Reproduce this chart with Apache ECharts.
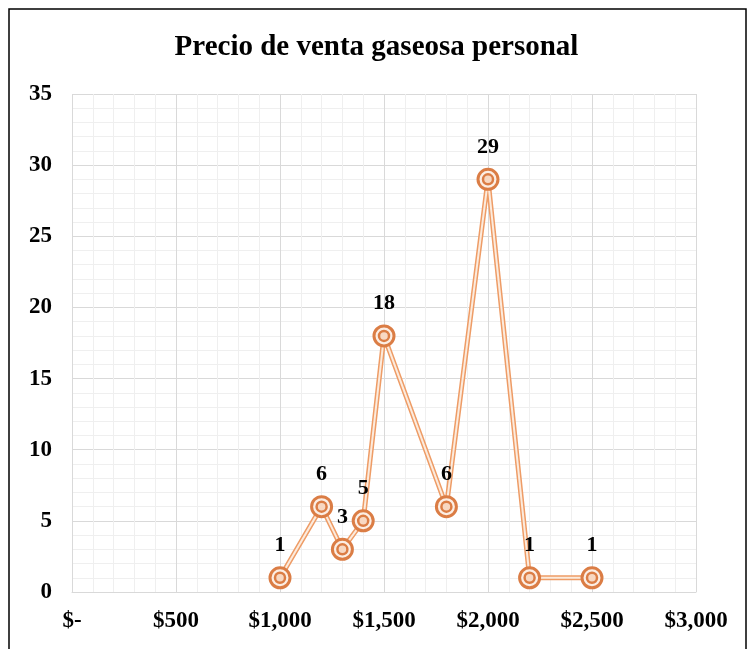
<!DOCTYPE html>
<html><head><meta charset="utf-8">
<script src="https://cdn.jsdelivr.net/npm/echarts@6/dist/echarts.min.js"></script>
<style>html,body{margin:0;padding:0;background:#fff}#c{width:753px;height:649px}</style>
</head><body><div id="c"></div>
<script>
const title = 'Precio de venta gaseosa personal';
const prices = [1000, 1200, 1300, 1400, 1500, 1800, 2000, 2200, 2500];
const counts = [1, 6, 3, 5, 18, 6, 29, 1, 1];
const xTicks = [0, 500, 1000, 1500, 2000, 2500, 3000];
const yTicks = [0, 5, 10, 15, 20, 25, 30, 35];

const pts = prices.map((p, i) => [p, counts[i]]);
const font = '"Liberation Serif", "Times New Roman", serif';
function fmtMoney(v) {
  if (v === 0) return '$-';
  return '$' + v.toLocaleString('en-US');
}
const chart = echarts.init(document.getElementById('c'), null, {renderer: 'canvas'});
chart.setOption({
  animation: false,
  backgroundColor: '#fff',
  title: {text: title, left: 'center', top: 28,
    textStyle: {fontFamily: font, fontWeight: 'bold', fontSize: 29, color: '#000'}},
  graphic: [{type: 'rect', shape: {x: 9, y: 9, width: 737, height: 660},
    style: {fill: 'none', stroke: '#000', lineWidth: 1.5}, silent: true}],
  grid: {left: 72, right: 57, top: 94, bottom: 57},
  xAxis: {type: 'value', min: xTicks[0], max: xTicks[xTicks.length - 1], interval: 500,
    axisLine: {show: true, lineStyle: {color: '#D9D9D9', width: 1}},
    axisTick: {show: false},
    axisLabel: {formatter: fmtMoney, fontFamily: font, fontWeight: 'bold', fontSize: 23, color: '#000', margin: 18},
    splitLine: {show: true, lineStyle: {color: '#D9D9D9', width: 1}},
    minorTick: {show: false, splitNumber: 5},
    minorSplitLine: {show: true, lineStyle: {color: '#EFEFEF', width: 1}}},
  yAxis: {type: 'value', min: yTicks[0], max: yTicks[yTicks.length - 1], interval: 5,
    axisLine: {show: false}, axisTick: {show: false},
    axisLabel: {fontFamily: font, fontWeight: 'bold', fontSize: 23, color: '#000', margin: 20},
    splitLine: {show: true, lineStyle: {color: '#D9D9D9', width: 1}},
    minorTick: {show: false, splitNumber: 5},
    minorSplitLine: {show: true, lineStyle: {color: '#EFEFEF', width: 1}}},
  series: [
    {type: 'line', data: pts, symbol: 'none', z: 2,
      lineStyle: {color: '#EE9C66', width: 5}},
    {type: 'line', data: pts, symbol: 'none', z: 3,
      lineStyle: {color: '#FCEBDD', width: 2}},
    {type: 'scatter', data: pts, symbol: 'circle', symbolSize: 20, z: 4,
      itemStyle: {color: '#FCEEE4', borderColor: '#DB7D45', borderWidth: 3, opacity: 1},
      label: {show: true, position: 'top', distance: 10, formatter: p => p.value[1],
        fontFamily: font, fontWeight: 'bold', fontSize: 22, color: '#000', opacity: 1}},
    {type: 'scatter', data: pts, symbol: 'circle', symbolSize: 10, z: 5,
      itemStyle: {color: '#F8D8C2', borderColor: '#DB7D45', borderWidth: 2.5, opacity: 1}}
  ]
});
</script></body></html>
